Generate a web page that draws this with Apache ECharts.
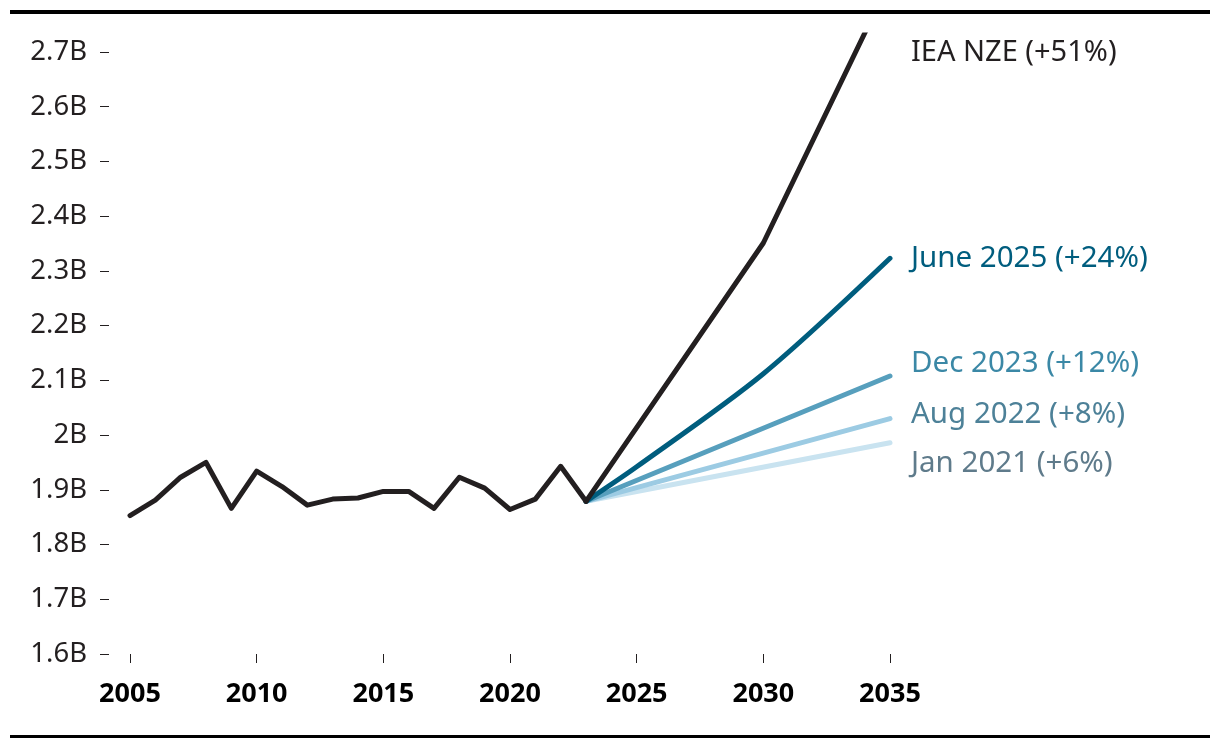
<!DOCTYPE html>
<html>
<head>
<meta charset="utf-8">
<script src="https://cdn.jsdelivr.net/npm/echarts@6/dist/echarts.min.js"></script>
<style>
html,body{margin:0;padding:0;background:#fff;}
#chart{width:1220px;height:748px;}
</style>
</head>
<body>
<div id="chart"></div>
<script>
// ---- data ----
const histYears = [2005,2006,2007,2008,2009,2010,2011,2012,2013,2014,2015,2016,2017,2018,2019,2020,2021,2022,2023];
const histValues = [1.853,1.881,1.923,1.950,1.866,1.934,1.906,1.872,1.883,1.885,1.897,1.897,1.866,1.923,1.903,1.864,1.883,1.943,1.879];

const nzeYears = [2023,2030,2035];
const nzeValues = [1.879,2.351,2.830];

const june2025Years = [2023,2025,2030,2035];
const june2025Values = [1.879,1.942,2.112,2.323];

const dec2023Years = [2023,2035];
const dec2023Values = [1.879,2.108];

const aug2022Years = [2023,2035];
const aug2022Values = [1.879,2.030];

const jan2021Years = [2023,2035];
const jan2021Values = [1.879,1.986];

const yTickValues = [1.6,1.7,1.8,1.9,2.0,2.1,2.2,2.3,2.4,2.5,2.6,2.7];
const xTickValues = [2005,2010,2015,2020,2025,2030,2035];

const labels = {
  nze: 'IEA NZE (+51%)',
  june: 'June 2025 (+24%)',
  dec: 'Dec 2023 (+12%)',
  aug: 'Aug 2022 (+8%)',
  jan: 'Jan 2021 (+6%)'
};

function pairs(xs, ys){ return xs.map((x,i)=>[x, ys[i]]); }

const FONT = '"Noto Sans", "Open Sans", sans-serif';
const INK = '#231f20';
const LW = 5;

function lineSeries(name, data, color, z, endLabel){
  const s = {
    name: name,
    type: 'line',
    data: data,
    showSymbol: false,
    symbol: 'none',
    z: z,
    lineStyle: {color: color, width: LW, cap: 'round', join: 'round'},
    emphasis: {disabled: true},
    silent: true
  };
  if (endLabel) s.endLabel = endLabel;
  return s;
}

function endLab(text, color, dy){
  return {
    show: true,
    formatter: text,
    color: color,
    fontFamily: FONT,
    fontSize: 29.5,
    distance: 21,
    offset: [0, dy]
  };
}

const chart = echarts.init(document.getElementById('chart'), null, {renderer: 'canvas'});

const option = {
  animation: false,
  backgroundColor: '#fff',
  grid: {left: 130, right: 330, top: 35, bottom: 94, containLabel: false},
  xAxis: {
    type: 'value',
    min: 2005,
    max: 2035,
    interval: 5,
    axisLine: {show: false},
    splitLine: {show: false},
    axisTick: {show: true, length: 9, lineStyle: {color: INK, width: 1}, customValues: xTickValues},
    axisLabel: {
      customValues: xTickValues,
      color: '#000',
      fontFamily: FONT,
      fontWeight: 'bold',
      fontSize: 27,
      margin: 27,
      formatter: v => String(v)
    }
  },
  yAxis: {
    type: 'value',
    min: 1.6,
    max: 2.731,
    interval: 0.1,
    offset: 21,
    axisLine: {show: false},
    splitLine: {show: false},
    axisTick: {show: true, length: 9, lineStyle: {color: INK, width: 1}, customValues: yTickValues},
    axisLabel: {
      customValues: yTickValues,
      color: INK,
      fontFamily: FONT,
      fontSize: 27.5,
      margin: 22,
      formatter: v => {
        let s = (Math.round(v*10)/10).toFixed(1);
        if (s.endsWith('.0')) s = s.slice(0, -2);
        return s + 'B';
      }
    }
  },
  series: [
    lineSeries('Jan 2021', pairs(jan2021Years, jan2021Values), '#c9e3f0', 2,
      endLab(labels.jan, '#5f7b8b', 21)),
    lineSeries('Aug 2022', pairs(aug2022Years, aug2022Values), '#9ccbe3', 3,
      endLab(labels.aug, '#4d8198', -4)),
    lineSeries('Dec 2023', pairs(dec2023Years, dec2023Values), '#579fbd', 4,
      endLab(labels.dec, '#3b88a6', -12)),
    lineSeries('June 2025', pairs(june2025Years, june2025Values), '#005d7e', 5,
      endLab(labels.june, '#005d7e', 0)),
    lineSeries('IEA NZE', pairs(nzeYears, nzeValues), INK, 6),
    lineSeries('History', pairs(histYears, histValues), INK, 7)
  ]
};

// June 2025 slight curvature
option.series[3].smooth = 0.3;

chart.setOption(option);

// NZE label placed next to the top of the plot, at 2035 / 2.7B
const p = chart.convertToPixel({xAxisIndex: 0, yAxisIndex: 0}, [2035, 2.7]);
chart.setOption({
  graphic: [
    {type: 'rect', shape: {x: 10, y: 10, width: 1200, height: 4}, style: {fill: '#000'}, silent: true},
    {type: 'rect', shape: {x: 10, y: 735, width: 1200, height: 3}, style: {fill: '#000'}, silent: true},
    {type: 'text', x: p[0] + 21, y: p[1] + 1, silent: true,
     style: {text: labels.nze, fill: INK, font: '29px ' + FONT, verticalAlign: 'middle', align: 'left'}}
  ]
});
</script>
</body>
</html>
